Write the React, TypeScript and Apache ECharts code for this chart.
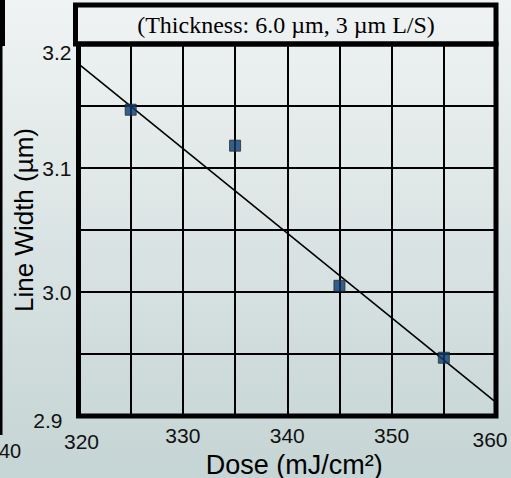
import React, { useEffect, useRef } from "react";
import * as echarts from "echarts";

// ---- data ----
const doses = [325, 335, 345, 355];
const lineWidths = [3.147, 3.118, 3.005, 2.947];
const fitDoses = [320, 360];
const fitWidths = [3.184, 2.911];
const xTickLabels = ["320", "330", "340", "350", "360"];
const yTickLabels = ["2.9", "3.0", "3.1", "3.2"];
const titleText = "(Thickness: 6.0 µm, 3 µm L/S)";
const xName = "Dose (mJ/cm²)";
const yName = "Line Width (µm)";
const clippedNeighbourLabel = "40";

export default function App() {
  const ref = useRef<HTMLDivElement>(null);

  useEffect(() => {
    if (!ref.current) return;
    const chart = echarts.init(ref.current, null, { renderer: "svg" });
    const sans = "Liberation Sans";

    const option: any = {
      animation: false,
      backgroundColor: new echarts.graphic.LinearGradient(0, 0, 0, 1, [
        { offset: 0, color: "#f0f3f3" },
        { offset: 1, color: "#c5d4d4" },
      ]),
      grid: {
        left: 78.5,
        right: 15,
        top: 44,
        bottom: 62,
        outerBoundsMode: "none",
        containLabel: false,
        show: true,
        borderWidth: 5,
        borderColor: "#000",
        backgroundColor: "transparent",
      },
      xAxis: {
        type: "value",
        min: 320,
        max: 360,
        interval: 5,
        axisLine: { show: false },
        axisTick: { show: false },
        splitLine: { show: true, lineStyle: { color: "#000", width: 2 } },
        axisLabel: {
          margin: 9,
          fontFamily: sans,
          fontSize: 21,
          color: "#111",
          formatter: (v: number) => {
            const s = String(Math.round(v));
            if (!xTickLabels.includes(s)) return "";
            if (s === "360") return "{r|" + s + "}";
            if (s === "320") return "{l|" + s + "}";
            return s;
          },
          rich: {
            r: { fontFamily: sans, fontSize: 21, color: "#111", padding: [4, 12, 0, 0] },
            l: { fontFamily: sans, fontSize: 21, color: "#111", padding: [6, 0, 0, 6] },
          },
        },
        name: xName,
        nameLocation: "middle",
        nameGap: 35,
        nameMoveOverlap: false,
        nameTextStyle: { fontFamily: sans, fontSize: 27, color: "#000", padding: [0, 0, 0, 14] },
      },
      yAxis: {
        type: "value",
        min: 2.9,
        max: 3.2,
        interval: 0.05,
        axisLine: { show: false },
        axisTick: { show: false },
        splitLine: { show: true, lineStyle: { color: "#000", width: 2 } },
        axisLabel: {
          margin: 7,
          fontFamily: sans,
          fontSize: 21,
          color: "#111",
          formatter: (v: number) => {
            const t = v * 10;
            if (Math.abs(t - Math.round(t)) > 1e-6) return "";
            const s = (Math.round(t) / 10).toFixed(1);
            if (!yTickLabels.includes(s)) return "";
            if (s === "3.2") return "{t|" + s + "}";
            if (s === "2.9") return "{b|" + s + "}";
            return s;
          },
          rich: {
            t: { fontFamily: sans, fontSize: 21, color: "#111", padding: [16, 0, 0, 0] },
            b: { fontFamily: sans, fontSize: 21, color: "#111", padding: [8, 9, 0, 0] },
          },
        },
        name: yName,
        nameLocation: "middle",
        nameGap: 42,
        nameMoveOverlap: false,
        nameTextStyle: { fontFamily: sans, fontSize: 26, color: "#000", padding: [0, 0, 0, 20] },
      },
      series: [
        {
          type: "line",
          data: fitDoses.map((d, i) => [d, fitWidths[i]]),
          showSymbol: false,
          symbol: "none",
          lineStyle: { color: "#000", width: 1.6 },
          z: 3,
        },
        {
          type: "scatter",
          data: doses.map((d, i) => [d, lineWidths[i]]),
          symbol: "rect",
          symbolSize: 11,
          itemStyle: { color: "#0b3d70", borderColor: "#2a2a2a", borderWidth: 1 },
          z: 4,
        },
      ],
      graphic: [
        {
          type: "rect",
          shape: { x: 75.5, y: 5, width: 420.5, height: 39 },
          style: { fill: "transparent", stroke: "#000", lineWidth: 5 },
          z: 10,
        },
        {
          type: "text",
          x: 286,
          y: 25,
          style: {
            text: titleText,
            font: '24px "Liberation Serif"',
            fill: "#000",
            textAlign: "center",
            textVerticalAlign: "middle",
          },
          z: 11,
        },
        {
          type: "rect",
          shape: { x: 0, y: 0, width: 5, height: 46 },
          style: { fill: "#000" },
        },
        {
          type: "rect",
          shape: { x: 0, y: 46, width: 2.5, height: 389 },
          style: { fill: "#000" },
        },
        {
          type: "text",
          x: -1,
          y: 451,
          style: {
            text: clippedNeighbourLabel,
            font: '20px "Liberation Sans"',
            fill: "#111",
            textAlign: "left",
            textVerticalAlign: "middle",
          },
        },
      ],
    };

    chart.setOption(option);
    return () => chart.dispose();
  }, []);

  return (
    <div
      ref={ref}
      style={{ position: "absolute", left: 0, top: 0, width: 511, height: 478 }}
    />
  );
}
